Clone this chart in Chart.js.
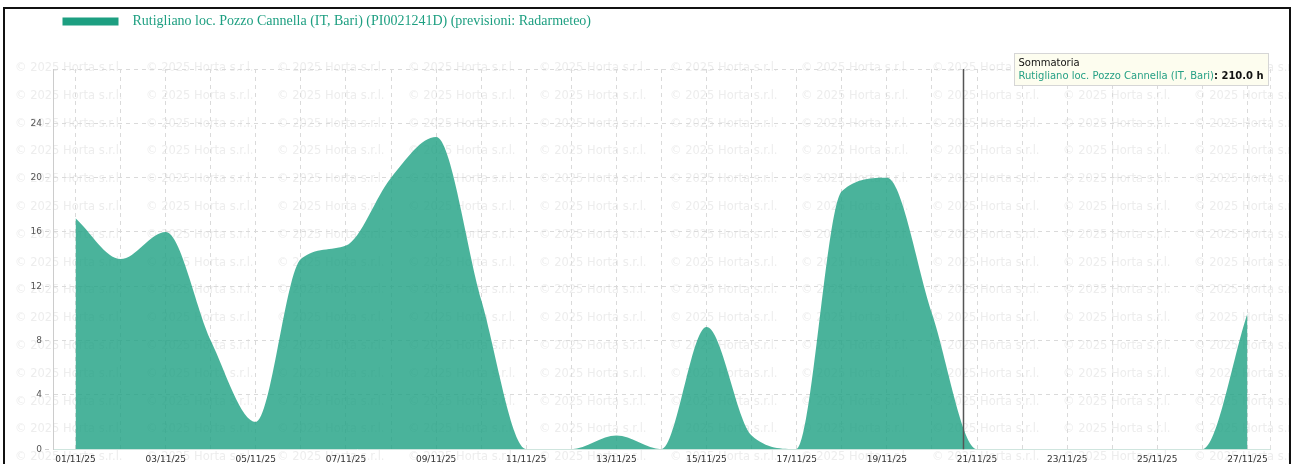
<!DOCTYPE html>
<html>
<head>
<meta charset="utf-8">
<script src="https://cdn.jsdelivr.net/npm/chart.js@4.4.0/dist/chart.umd.min.js"></script>
<style>
  html, body { margin: 0; padding: 0; background: #fff; overflow: hidden; }
  #frame { position: absolute; left: 3px; top: 7px; width: 1284px; height: 500px; border: 2px solid #111; border-bottom: none; }
  #wrap { position: absolute; left: 0; top: 0; width: 1284px; height: 470px; }
</style>
</head>
<body>
<div id="frame"><div id="wrap"><canvas id="chart"></canvas></div></div>
<script>
// dati giornalieri (ore)
const days = ['01/11/25', '02/11/25', '03/11/25', '04/11/25', '05/11/25', '06/11/25', '07/11/25',
  '08/11/25', '09/11/25', '10/11/25', '11/11/25', '12/11/25', '13/11/25', '14/11/25', '15/11/25',
  '16/11/25', '17/11/25', '18/11/25', '19/11/25', '20/11/25', '21/11/25', '22/11/25', '23/11/25',
  '24/11/25', '25/11/25', '26/11/25', '27/11/25'];
const hours = [17, 14, 16, 8, 2, 14, 15, 20, 23, 11, 0, 0, 1, 0, 9, 1, 0, 19, 20, 10, 0, 0, 0, 0, 0, 0, 10];
const yTicks = [0, 4, 8, 12, 16, 20, 24];

const seriesLabel = 'Rutigliano loc. Pozzo Cannella (IT, Bari) (PI0021241D) (previsioni: Radarmeteo)';
const stationName = 'Rutigliano loc. Pozzo Cannella (IT, Bari)';
const cursorDay = 19.7; // posizione della linea verticale (indice giorno)

const teal = '#1d9f81';
const tealFill = 'rgba(29,160,130,0.8)';

// filigrana di sfondo
const watermark = {
  id: 'watermark',
  beforeDraw(chart) {
    const ctx = chart.ctx;
    ctx.save();
    ctx.font = '11.5px "DejaVu Sans"';
    ctx.fillStyle = '#ededed';
    ctx.textBaseline = 'middle';
    for (let r = 0; r < 15; r++) {
      for (let c = 0; c < 10; c++) {
        ctx.fillText('\u00a9 2025 Horta s.r.l.', 10 + c * 131, 59 + r * 27.8);
      }
    }
    ctx.restore();
  }
};

// sposta un po' la legenda a destra
const legendShift = {
  id: 'legendShift',
  afterLayout(chart) {
    chart.legend.left += 4;
    chart.legend.right += 4;
  }
};

// linea verticale + riquadro "Sommatoria"
const overlay = {
  id: 'overlay',
  afterDraw(chart) {
    const ctx = chart.ctx;
    const area = chart.chartArea;
    const x = chart.scales.x.getPixelForValue(cursorDay);
    ctx.save();
    ctx.strokeStyle = '#e0e0e0';
    ctx.lineWidth = 1;
    ctx.setLineDash([4, 4]);
    ctx.beginPath();
    ctx.moveTo(area.right + 0.5, area.top);
    ctx.lineTo(area.right + 0.5, area.bottom);
    ctx.stroke();
    ctx.setLineDash([]);

    ctx.strokeStyle = '#555';
    ctx.lineWidth = 1.5;
    ctx.beginPath();
    ctx.moveTo(x, area.top);
    ctx.lineTo(x, area.bottom);
    ctx.stroke();

    const total = hours.reduce((a, b) => a + b, 0).toFixed(1) + ' h';
    const normal = '10px "DejaVu Sans"';
    const bold = 'bold 10px "DejaVu Sans"';
    ctx.font = normal;
    const w1 = ctx.measureText(stationName).width;
    ctx.font = bold;
    const w2 = ctx.measureText(': ' + total).width;
    const bx = Math.round(x + 51) + 0.5;
    const by = Math.round(area.top - 16) + 0.5;
    const bw = Math.round(w1 + w2 + 9);
    ctx.fillStyle = '#fdfdef';
    ctx.strokeStyle = '#d6d6d6';
    ctx.lineWidth = 1;
    ctx.fillRect(bx, by, bw, 32);
    ctx.strokeRect(bx, by, bw, 32);
    ctx.textBaseline = 'middle';
    ctx.font = normal;
    ctx.fillStyle = '#111';
    ctx.fillText('Sommatoria', bx + 4, by + 10);
    ctx.fillStyle = '#26a085';
    ctx.fillText(stationName, bx + 4, by + 23);
    ctx.font = bold;
    ctx.fillStyle = '#111';
    ctx.fillText(': ' + total, bx + 4 + w1, by + 23);
    ctx.restore();
  }
};

const chart = new Chart(document.getElementById('chart'), {
  type: 'line',
  data: {
    labels: days,
    datasets: [{
      label: seriesLabel,
      data: hours,
      fill: 'origin',
      backgroundColor: tealFill,
      borderColor: 'rgba(0,0,0,0)',
      borderWidth: 0,
      pointRadius: 0,
      cubicInterpolationMode: 'monotone'
    }]
  },
  options: {
    responsive: true,
    maintainAspectRatio: false,
    animation: false,
    events: [],
    layout: { padding: { left: 0, right: 19, top: 0, bottom: 9 } },
    plugins: {
      legend: {
        align: 'start',
        fullSize: false,
        labels: {
          boxWidth: 56,
          boxHeight: 8,
          padding: 5.5,
          color: teal,
          font: { family: '"Liberation Serif", serif', size: 14 },
          generateLabels(c) {
            const items = Chart.defaults.plugins.legend.labels.generateLabels(c);
            items.forEach(it => {
              it.text = '\u2002' + it.text;
              it.fillStyle = teal;
              it.strokeStyle = teal;
              it.lineWidth = 0;
              it.fontColor = teal;
            });
            return items;
          }
        }
      },
      title: { display: true, text: '', weight: 500, padding: 0, font: { size: 30.5, lineHeight: 1 } },
      tooltip: { enabled: false }
    },
    scales: {
      x: {
        offset: true,
        grid: { color: '#dadada', drawTicks: false },
        border: { color: '#cfe5de', dash: [4, 4] },
        ticks: {
          autoSkip: false,
          maxRotation: 0,
          padding: 5,
          color: '#333',
          font: { family: '"DejaVu Sans"', size: 9 },
          callback(v, i) { return i % 2 === 0 ? this.getLabelForValue(v) : ''; }
        }
      },
      y: {
        min: 0,
        max: 28,
        afterFit(s) { s.width = 48; },
        afterBuildTicks(s) { s.ticks = yTicks.concat([28]).map(v => ({ value: v })); },
        grid: {
          color: '#dadada',
          tickLength: 8,
          tickBorderDash: [4, 4],
          tickColor: c => (c.tick && c.tick.value === 28 ? 'rgba(0,0,0,0)' : '#d0d0d0')
        },
        border: { color: '#cccccc', dash: [4, 4] },
        ticks: {
          padding: 3,
          color: '#555',
          font: { family: '"DejaVu Sans"', size: 9 },
          callback: v => (yTicks.includes(v) ? v : '')
        }
      }
    }
  },
  plugins: [watermark, legendShift, overlay]
});
</script>
</body>
</html>
